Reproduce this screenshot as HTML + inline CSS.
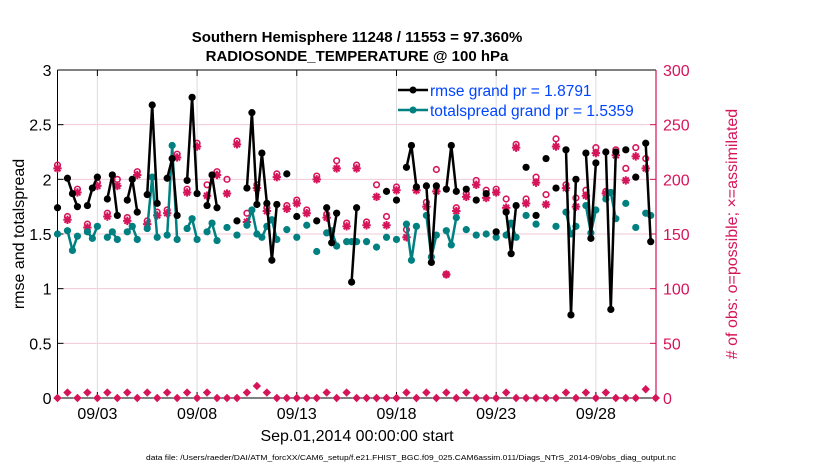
<!DOCTYPE html>
<html><head><meta charset="utf-8"><style>
html,body{margin:0;padding:0;background:#fff;}
svg{display:block;font-family:"Liberation Sans",sans-serif;}
</style></head><body>
<svg id="chart" width="830" height="470" xmlns="http://www.w3.org/2000/svg">
<g id="grid"></g>
<g id="axes"></g>
<g id="marks"></g>
<text x="357" y="42" text-anchor="middle" font-size="15" font-weight="bold">Southern Hemisphere 11248 / 11553 = 97.360%</text>
<text x="357" y="61" text-anchor="middle" font-size="15" font-weight="bold">RADIOSONDE_TEMPERATURE @ 100 hPa</text>
<text transform="translate(24,234) rotate(-90)" text-anchor="middle" font-size="16">rmse and totalspread</text>
<text transform="translate(737,234) rotate(-90)" text-anchor="middle" font-size="16" fill="#d6145a"># of obs: o=possible; ×=assimilated</text>
<text x="357" y="441" text-anchor="middle" font-size="16">Sep.01,2014 00:00:00 start</text>
<text x="146" y="460" font-size="7.5" textLength="530" lengthAdjust="spacingAndGlyphs">data file: /Users/raeder/DAI/ATM_forcXX/CAM6_setup/f.e21.FHIST_BGC.f09_025.CAM6assim.011/Diags_NTrS_2014-09/obs_diag_output.nc</text>
<g>
<g>
<line x1="398" y1="90" x2="428" y2="90" stroke="#000" stroke-width="2.5"/><circle cx="413" cy="90" r="3.5" fill="#000"/>
<text x="430" y="96" font-size="15.5" fill="#0044ff">rmse grand pr = 1.8791</text></g>
<g>
<line x1="398" y1="110" x2="428" y2="110" stroke="#008080" stroke-width="2.5"/><circle cx="413" cy="110" r="3.5" fill="#008080"/>
<text x="430" y="116" font-size="15.5" fill="#0044ff">totalspread grand pr = 1.5359</text></g>
</g>
</svg>
<script>
const xTickIdx=[8,28,48,68,88,108];
const xTickLabels=["09/03","09/08","09/13","09/18","09/23","09/28"];
const yLeftTicks=[0,0.5,1,1.5,2,2.5,3];
const yLeftLabels=["0","0.5","1","1.5","2","2.5","3"];
const yRightTicks=[0,50,100,150,200,250,300];
const rmseIdx=[0,2,3,4,6,7,8,10,11,12,14,15,16,18,19,20,22,23,24,26,27,28,30,31,32,36,38,39,40,41,42,43,44,46,48,52,54,55,56,59,60,66,68,70,71,72,74,75,76,78,79,80,82,84,86,88,90,91,92,94,96,98,100,102,103,104,106,107,108,110,111,112,114,116,118,119];
const rmseVal=[1.74,2.01,1.87,1.75,1.76,1.92,2.02,1.82,2.04,1.67,1.81,2.0,1.70,1.86,2.68,1.78,2.01,2.19,1.67,1.99,2.75,1.87,1.76,2.04,1.74,1.62,1.92,2.61,1.77,2.24,1.78,1.26,1.77,2.05,1.66,1.62,1.74,1.42,1.69,1.06,1.74,1.89,1.81,2.11,2.31,1.93,1.94,1.24,1.94,1.91,2.31,1.89,1.91,1.81,1.87,1.52,1.70,1.32,1.76,2.11,1.67,2.19,1.92,2.27,0.76,2.0,2.24,1.46,2.15,2.25,0.81,2.25,2.27,2.02,2.33,1.43];
const spreadIdx=[0,2,3,4,6,7,8,10,11,12,14,15,16,18,19,20,22,23,24,26,27,28,30,31,32,34,36,38,39,40,41,42,43,44,46,48,50,52,54,55,56,58,59,60,62,64,66,68,70,71,72,74,75,76,78,79,80,82,84,86,88,90,91,92,94,96,100,102,103,104,106,107,108,110,111,112,114,116,118,119];
const spreadVal=[1.50,1.53,1.35,1.48,1.52,1.46,1.57,1.47,1.52,1.45,1.52,1.57,1.45,1.55,2.02,1.47,1.49,2.31,1.45,1.55,1.64,1.45,1.52,1.60,1.44,1.56,1.49,1.58,1.72,1.50,1.47,1.57,1.63,1.45,1.54,1.47,1.58,1.34,1.51,1.53,1.39,1.43,1.43,1.43,1.43,1.38,1.47,1.45,1.59,1.26,1.57,1.67,1.29,1.49,1.53,1.40,1.65,1.54,1.49,1.50,1.47,1.49,1.60,1.47,1.67,1.59,1.57,1.70,1.50,1.57,1.76,1.51,1.72,1.82,1.88,1.64,1.78,1.56,1.69,1.67];
const assimVal=[210,163,188,156,194,166,194,162,204,159,167,169,220,188,230,185,204,187,232,161,192,171,202,173,178,169,200,165,210,157,210,158,184,158,190,147,190,175,189,113,171,184,195,183,188,174,229,178,197,177,230,192,175,185,224,187,222,199,221,210];
const possVal=[213,166,191,159,197,169,200,165,207,162,170,172,223,191,233,195,207,200,235,169,195,174,205,176,181,172,203,168,217,160,213,161,195,166,193,154,193,179,209,113,174,187,199,190,191,182,232,182,202,186,237,195,183,190,229,189,227,210,229,219];
const rejVal=[0,5,0,5,0,5,0,5,0,5,0,5,0,5,0,5,0,0,0,5,11,5,0,0,0,0,0,5,0,5,0,0,0,0,0,5,0,5,0,5,0,5,0,0,0,5,0,0,0,0,0,5,0,5,0,5,0,0,0,8,0];

const NS="http://www.w3.org/2000/svg";
const X0=57.5,X1=656,Y0=398,Y1=70;
function xs(i){return X0+i*4.985;}
function yl(v){return Y0-(v/3)*(Y0-Y1);}
function yr(v){return Y0-(v/300)*(Y0-Y1);}
function mk(tag,attrs,parent){const e=document.createElementNS(NS,tag);for(const k in attrs)e.setAttribute(k,attrs[k]);parent.appendChild(e);return e;}
const grid=document.getElementById('grid'),axes=document.getElementById('axes'),marks=document.getElementById('marks');
const PINK="#d6145a",TEAL="#008080";
yLeftTicks.forEach((v,k)=>{
 if(k>0&&k<yLeftTicks.length-1){const g=mk('line',{x1:X0,x2:X1,y1:yl(v),y2:yl(v),stroke:'#f2c8d8','stroke-width':1},grid);
 
 }
 const t=mk('line',{x1:X0,x2:X0+6,y1:yl(v),y2:yl(v),stroke:'#000'},axes);
 
 
 const l=mk('text',{x:X0-6,y:yl(v)+6,'text-anchor':'end','font-size':16},axes);
 
 
 l.textContent=yLeftLabels[k];
});
yRightTicks.forEach(v=>{
 const t=mk('line',{x1:X1-6,x2:X1,y1:yr(v),y2:yr(v),stroke:PINK},axes);
 
 
 const l=mk('text',{x:X1+7,y:yr(v)+6,'font-size':16,fill:PINK},axes);
 
 
 l.textContent=String(v);
});
xTickIdx.forEach((i,k)=>{
 const g=mk('line',{x1:xs(i),x2:xs(i),y1:Y1,y2:Y0,stroke:'#dcdcdc'},grid);
 
 
 const t1=mk('line',{x1:xs(i),x2:xs(i),y1:Y0,y2:Y0-6,stroke:'#000'},axes);
 
 
 const t2=mk('line',{x1:xs(i),x2:xs(i),y1:Y1,y2:Y1+6,stroke:'#000'},axes);
 
 
 const l=mk('text',{x:xs(i),y:Y0+21,'text-anchor':'middle','font-size':16},axes);
 
 
 l.textContent=xTickLabels[k];
});
const ax=mk('path',{d:`M${X0},${Y1}L${X1},${Y1}M${X0},${Y1}L${X0},${Y0}L${X1},${Y0}`,stroke:'#000',fill:'none','stroke-width':1},axes);


const rax=mk('line',{x1:X1,x2:X1,y1:Y1,y2:Y0,stroke:PINK,'stroke-width':1.2},axes);



function series(idx,val,color,name){
 const g=mk('g',{},marks);
 
 
 let d='';
 for(let k=0;k<idx.length;k++){
  const cmd=(k>0&&idx[k]-idx[k-1]===1)?'L':'M';
  d+=cmd+xs(idx[k]).toFixed(1)+','+yl(val[k]).toFixed(1);
 }
 const p=mk('path',{d:d,stroke:color,'stroke-width':2.5,fill:'none','stroke-linejoin':'round'},g);
 
 
 idx.forEach((i,k)=>{
  const c=mk('circle',{cx:xs(i),cy:yl(val[k]),r:3.6,fill:color},g);
  
  
 });
}
// obs counts (right axis)
const og=mk('g',{},marks);


possVal.forEach((v,j)=>{
 const c=mk('circle',{cx:xs(2*j),cy:yr(v),r:2.8,fill:'none',stroke:PINK,'stroke-width':1.6},og);
 
 
});
assimVal.forEach((v,j)=>{
 const x=xs(2*j),y=yr(v),r=4.2;
 let d='';
 for(let a=0;a<4;a++){const t=a*Math.PI/4;d+=`M${x-r*Math.cos(t)},${y-r*Math.sin(t)}L${x+r*Math.cos(t)},${y+r*Math.sin(t)}`;}
 const s=mk('path',{d:d,stroke:PINK,'stroke-width':2},og);
 
 
});
rejVal.forEach((v,j)=>{
 const x=xs(2*j),y=yr(v),r=4.2;
 const s=mk('path',{d:`M${x},${y-r}L${x+r},${y}L${x},${y+r}L${x-r},${y}Z`,fill:PINK},og);
 
 
});
series(spreadIdx,spreadVal,TEAL,'totalspread');
series(rmseIdx,rmseVal,'#000','rmse');
</script>
</body></html>
